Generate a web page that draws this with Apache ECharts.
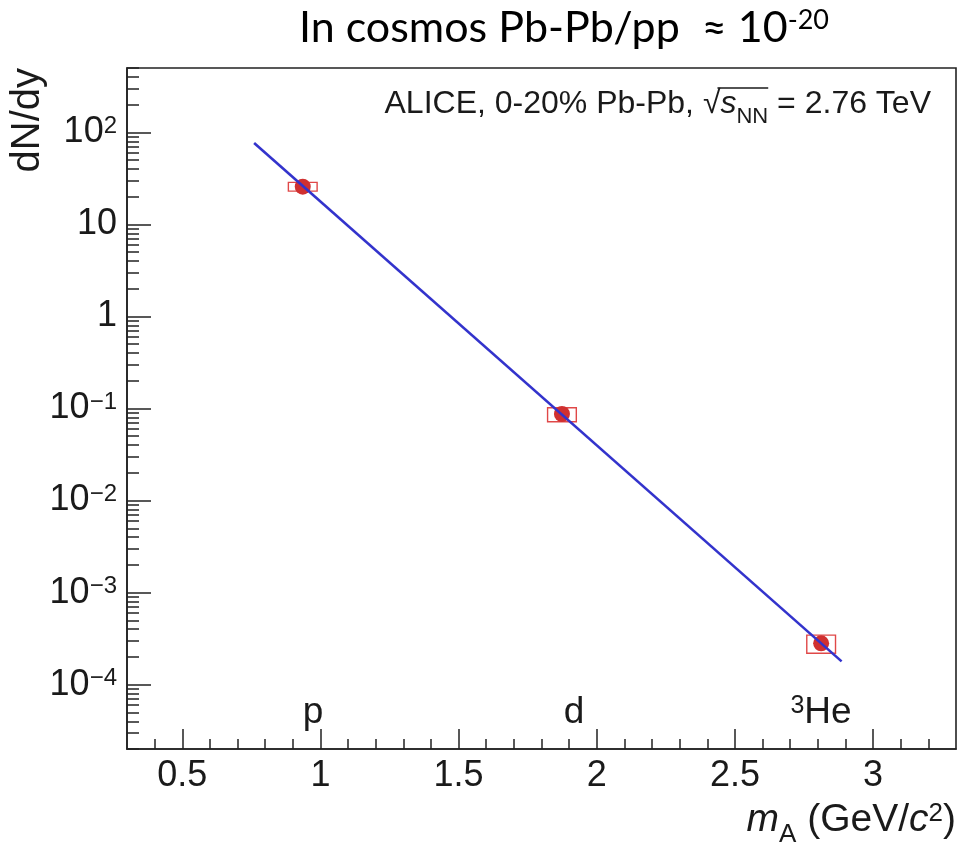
<!DOCTYPE html>
<html><head><meta charset="utf-8">
<script src="https://cdn.jsdelivr.net/npm/echarts@6/dist/echarts.min.js"></script>
<style>html,body{margin:0;padding:0;background:#fff}#c{width:959px;height:843px}</style>
</head><body><div id="c"></div>
<script>
// ---- data ----
const particles = ['p', 'd', '3He'];
const massX = [0.936, 1.874, 2.812];
const dNdy = [25.7, 0.0871, 2.81e-4];
const sysLow = [23.0, 0.0719, 2.19e-4];
const sysHigh = [28.6, 0.102, 3.45e-4];
const fitX = [0.76, 2.886];
const fitY = [76.6, 1.79e-4];
const xMajorTicks = [0.5, 1, 1.5, 2, 2.5, 3];
const xTickLabels = ['0.5', '1', '1.5', '2', '2.5', '3'];
const xMinorTicks = [0.4, 0.6, 0.7, 0.8, 0.9, 1.1, 1.2, 1.3, 1.4, 1.6, 1.7, 1.8, 1.9,
  2.1, 2.2, 2.3, 2.4, 2.6, 2.7, 2.8, 2.9, 3.1, 3.2];
const yMajorTicks = [1e-4, 1e-3, 1e-2, 1e-1, 1, 10, 100];
const yTickLabels = ['{b|10}{s|\u22124}', '{b|10}{s|\u22123}', '{b|10}{s|\u22122}', '{b|10}{s|\u22121}', '{b|1}', '{b|10}', '{b|10}{s|2}'];
const yMinorTicks = [];
for (let e = -5; e <= 2; e++) for (let k = 2; k <= 9; k++) {
  const v = k * Math.pow(10, e);
  if (v >= 2e-5 && v <= 500) yMinorTicks.push(v);
}

const X_MIN = 0.3, X_MAX = 3.3, Y_MIN = 2e-5, Y_MAX = 500;
const FONT = 'Liberation Sans, Arial, sans-serif';
const INK = '#1a1a1a';

// text measuring for the sqrt overline
const mctx = document.createElement('canvas').getContext('2d');
function tw(text, font) { mctx.font = font; return mctx.measureText(text).width; }

const chart = echarts.init(document.getElementById('c'), null, {renderer: 'canvas'});

function yLabelFmt(v) {
  const i = yMajorTicks.findIndex(t => Math.abs(Math.log10(t) - Math.log10(v)) < 1e-6);
  return i >= 0 ? yTickLabels[i] : '';
}
function xLabelFmt(v) {
  const i = xMajorTicks.findIndex(t => Math.abs(t - v) < 1e-9);
  return i >= 0 ? xTickLabels[i] : '';
}

const LEG_RIGHT = 931, LEG_Y = 104, LEG_FS = 32, LEG_SUB = 22;
const tailW = tw(' = 2.76 TeV', LEG_FS + 'px Liberation Sans');
const nnW = tw('NN', LEG_SUB + 'px Liberation Sans');
const sW = tw('s', 'italic ' + LEG_FS + 'px Liberation Sans');
const olX1 = LEG_RIGHT - tailW;
const olX0 = olX1 - nnW - sW - 3;

const option = {
  animation: false,
  backgroundColor: '#fff',
  grid: {left: 127, right: 3, top: 68, bottom: 94, show: true, borderColor: '#222', borderWidth: 1.6, containLabel: false},
  xAxis: [
    {
      type: 'value', min: X_MIN, max: X_MAX, position: 'bottom',
      axisLine: {show: true, onZero: false, lineStyle: {color: '#222', width: 1.6}},
      axisTick: {show: true, inside: true, length: 20, customValues: xMajorTicks, lineStyle: {color: '#222', width: 1.5}},
      axisLabel: {customValues: xMajorTicks, formatter: xLabelFmt, margin: 9, fontSize: 36, fontFamily: FONT, color: INK},
      splitLine: {show: false}
    },
    {
      type: 'value', min: X_MIN, max: X_MAX, position: 'bottom',
      axisLine: {show: false, onZero: false},
      axisTick: {show: true, inside: true, length: 10, customValues: xMinorTicks, lineStyle: {color: '#222', width: 1.5}},
      axisLabel: {show: false},
      splitLine: {show: false}
    }
  ],
  yAxis: [
    {
      type: 'log', logBase: 10, min: Y_MIN, max: Y_MAX, position: 'left',
      axisLine: {show: true, onZero: false, lineStyle: {color: '#222', width: 1.6}},
      axisTick: {show: true, inside: true, length: 24, customValues: yMajorTicks, lineStyle: {color: '#222', width: 1.5}},
      axisLabel: {
        customValues: yMajorTicks, formatter: yLabelFmt, margin: 10,
        rich: {
          b: {fontSize: 36, fontFamily: FONT, color: INK},
          s: {fontSize: 24, fontFamily: FONT, color: INK, verticalAlign: 'top'}
        }
      },
      splitLine: {show: false}
    },
    {
      type: 'log', logBase: 10, min: Y_MIN, max: Y_MAX, position: 'left',
      axisLine: {show: false, onZero: false},
      axisTick: {show: true, inside: true, length: 12, customValues: yMinorTicks, lineStyle: {color: '#222', width: 1.5}},
      axisLabel: {show: false},
      splitLine: {show: false}
    }
  ],
  series: [
    {
      name: 'syst', type: 'custom', xAxisIndex: 0, yAxisIndex: 0, z: 2,
      data: massX.map((x, i) => [x, sysLow[i], sysHigh[i]]),
      encode: {x: 0, y: [1, 2]},
      renderItem: function (params, api) {
        const x = api.value(0), lo = api.value(1), hi = api.value(2);
        const a = api.coord([x - 0.052, hi]);
        const b = api.coord([x + 0.052, lo]);
        return {
          type: 'rect',
          shape: {x: a[0], y: a[1], width: b[0] - a[0], height: b[1] - a[1]},
          style: {fill: 'rgba(0,0,0,0)', stroke: '#e04848', lineWidth: 1.4}
        };
      }
    },
    {
      name: 'dN/dy', type: 'scatter', xAxisIndex: 0, yAxisIndex: 0, z: 3,
      symbol: 'circle', symbolSize: 16,
      itemStyle: {color: '#d03030', opacity: 1},
      data: massX.map((x, i) => [x, dNdy[i]])
    },
    {
      name: 'fit', type: 'line', xAxisIndex: 0, yAxisIndex: 0, z: 4,
      showSymbol: false, symbol: 'none',
      lineStyle: {color: '#3333cc', width: 2.6},
      data: fitX.map((x, i) => [x, fitY[i]])
    }
  ],
  graphic: [
    {
      type: 'text', x: 564, y: 50, z: 10,
      style: {
        text: '{t|In cosmos Pb-Pb/pp  \u2248 10}{s|-20}',
        textAlign: 'center', textVerticalAlign: 'bottom',
        rich: {
          t: {fontSize: 43, fontFamily: 'Lato, sans-serif', fill: '#000', verticalAlign: 'bottom'},
          s: {fontSize: 27, fontFamily: 'Lato, sans-serif', fill: '#000', verticalAlign: 'top'}
        }
      }
    },
    {
      type: 'text', x: LEG_RIGHT, y: LEG_Y, z: 10,
      style: {
        text: '{n|ALICE, 0-20% Pb-Pb, }{r|\u221A}{i|s}{sub|NN}{n| = 2.76 TeV}',
        textAlign: 'right', textVerticalAlign: 'middle',
        rich: {
          n: {fontSize: LEG_FS, fontFamily: FONT, fill: INK},
          r: {fontSize: LEG_FS, fontFamily: FONT, fill: INK},
          i: {fontSize: LEG_FS, fontFamily: FONT, fontStyle: 'italic', fill: INK},
          sub: {fontSize: LEG_SUB, fontFamily: FONT, fill: INK, verticalAlign: 'bottom', padding: [0, 0, -8, 0]}
        }
      }
    },
    {
      type: 'line', z: 10,
      shape: {x1: olX0, y1: 88, x2: olX1, y2: 88},
      style: {stroke: INK, lineWidth: 1.3}
    },
    {
      type: 'text', x: 28, y: 68, rotation: Math.PI / 2, z: 10,
      style: {
        text: 'dN/dy', textAlign: 'right', textVerticalAlign: 'middle',
        font: '40px ' + FONT, fill: INK
      }
    },
    {
      type: 'text', x: 956, y: 840, z: 10,
      style: {
        text: '{i|m}{sub|A}{n| (GeV/}{i|c}{sup|2}{n|)}',
        textAlign: 'right', textVerticalAlign: 'bottom',
        rich: {
          n: {fontSize: 39, fontFamily: FONT, fill: INK},
          i: {fontSize: 39, fontFamily: FONT, fontStyle: 'italic', fill: INK},
          sub: {fontSize: 26, fontFamily: FONT, fill: INK, verticalAlign: 'bottom', padding: [0, 0, -8, 0]},
          sup: {fontSize: 26, fontFamily: FONT, fill: INK, verticalAlign: 'top'}
        }
      }
    },
    {
      type: 'text', x: 313, y: 731, z: 10,
      style: {text: particles[0], textAlign: 'center', textVerticalAlign: 'bottom', font: '37px ' + FONT, fill: INK}
    },
    {
      type: 'text', x: 574, y: 731, z: 10,
      style: {text: particles[1], textAlign: 'center', textVerticalAlign: 'bottom', font: '37px ' + FONT, fill: INK}
    },
    {
      type: 'text', x: 821, y: 731, z: 10,
      style: {
        text: '{s|3}{n|He}', textAlign: 'center', textVerticalAlign: 'bottom',
        rich: {
          n: {fontSize: 37, fontFamily: FONT, fill: INK},
          s: {fontSize: 25, fontFamily: FONT, fill: INK, verticalAlign: 'top'}
        }
      }
    }
  ]
};
chart.setOption(option);
</script>
</body></html>
